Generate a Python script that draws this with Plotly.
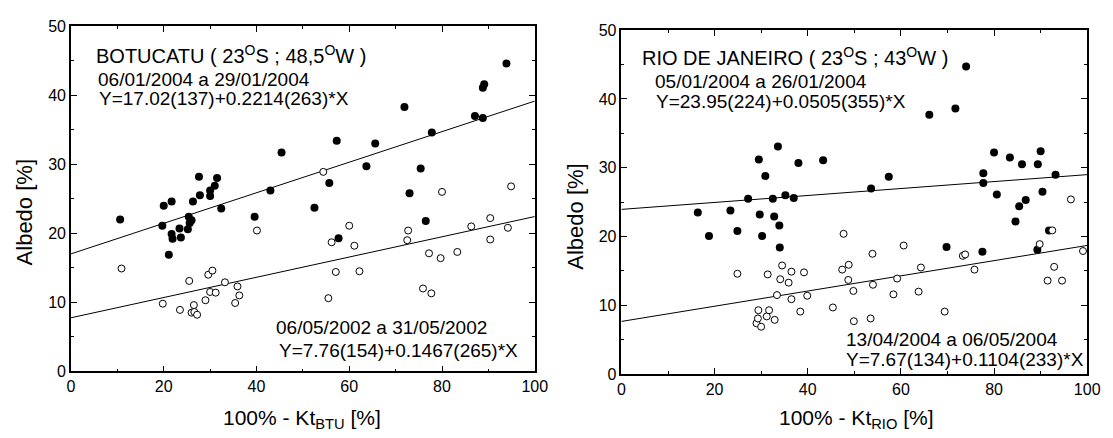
import plotly.graph_objects as go

# ---------------- data ----------------
# Botucatu, 06/01/2004 a 29/01/2004 (filled)
btu_jan_x = [10.6, 19.7, 20.0, 21.7, 21.7, 21.9, 21.1, 23.4, 23.7, 25.2, 25.4, 25.6, 26.0, 26.3,
             27.6, 27.8, 30.0, 30.0, 31.0, 31.5, 32.4, 39.6, 43.0, 45.4, 52.5, 55.7, 57.3, 57.7,
             63.7, 65.6, 71.9, 73.0, 75.4, 76.5, 77.8, 87.1, 88.8, 88.8, 89.1, 93.9]
btu_jan_y = [22.0, 21.1, 24.0, 24.6, 19.9, 19.2, 16.9, 20.7, 19.4, 20.6, 22.4, 21.5, 21.9, 24.6,
             28.2, 25.5, 26.2, 25.4, 26.9, 28.0, 23.6, 22.4, 26.2, 31.7, 23.7, 27.3, 33.4, 19.3,
             29.7, 33.0, 38.3, 25.8, 29.4, 21.8, 34.6, 37.0, 36.7, 41.1, 41.6, 44.6]
# Botucatu, 06/05/2002 a 31/05/2002 (open)
btu_may_x = [10.9, 19.8, 23.5, 25.5, 26.0, 26.5, 26.6, 27.2, 29.0, 29.6, 30.0, 30.5, 31.2, 33.2,
             35.4, 35.9, 36.3, 40.1, 54.4, 55.5, 56.2, 57.1, 60.0, 61.1, 62.2, 72.5, 72.7, 75.9,
             77.2, 77.7, 79.7, 80.0, 83.3, 86.3, 90.4, 90.4, 94.2, 94.9]
btu_may_y = [14.9, 9.8, 8.9, 13.1, 8.5, 9.6, 8.6, 8.2, 10.3, 14.0, 11.5, 14.6, 11.4, 12.9,
             9.9, 12.3, 11.0, 20.4, 28.9, 10.6, 18.7, 14.4, 21.1, 18.2, 14.5, 19.0, 20.4, 12.0,
             17.1, 11.3, 16.4, 26.0, 17.3, 21.0, 22.2, 19.1, 20.8, 26.8]
# Rio de Janeiro, 05/01/2004 a 26/01/2004 (filled)
rio_jan_x = [16.4, 18.8, 23.4, 24.9, 27.2, 29.5, 29.7, 30.2, 30.9, 32.5, 32.8, 33.6, 33.9, 34.0,
             35.2, 37.0, 38.0, 43.3, 53.6, 57.4, 66.1, 69.8, 71.7, 74.0, 77.5, 77.7, 77.7, 80.0,
             80.6, 83.4, 84.6, 85.4, 86.0, 86.8, 89.3, 89.4, 90.0, 90.4, 91.8, 93.2]
rio_jan_y = [23.5, 20.1, 23.8, 20.8, 25.5, 31.2, 23.2, 20.1, 28.8, 25.5, 22.9, 33.1, 21.6, 18.4,
             26.0, 25.6, 30.7, 31.1, 27.0, 28.7, 37.7, 18.5, 38.6, 44.7, 17.8, 29.2, 27.8, 32.2,
             26.1, 31.5, 22.2, 24.4, 30.5, 25.3, 18.1, 30.5, 32.4, 26.5, 20.9, 29.0]
# Rio de Janeiro, 13/04/2004 a 06/05/2004 (open)
rio_apr_x = [24.9, 29.0, 29.3, 29.4, 30.0, 31.2, 31.4, 31.7, 32.9, 33.4, 34.1, 34.5, 35.9, 36.5,
             36.5, 38.4, 39.2, 39.9, 45.4, 47.4, 47.7, 48.7, 48.8, 49.8, 49.9, 53.5, 53.9, 54.0,
             58.4, 59.2, 60.6, 63.8, 64.3, 69.4, 73.3, 73.8, 75.8, 89.8, 91.5, 92.5, 92.9, 94.6,
             96.5, 99.1]
rio_apr_y = [14.6, 7.4, 8.1, 9.3, 6.9, 8.4, 14.5, 9.3, 7.9, 11.5, 13.8, 15.8, 13.3, 10.9,
             14.9, 9.1, 14.8, 11.4, 9.7, 15.2, 20.4, 13.7, 15.9, 12.1, 7.7, 8.1, 17.5, 13.0,
             11.6, 13.9, 18.7, 12.0, 15.5, 9.1, 17.2, 17.4, 15.2, 18.9, 13.6, 20.9, 15.6, 13.6,
             25.4, 17.9]

# regression coefficients (from the chart's equations)
fits = {
    "btu_jan": (17.02, 0.2214),
    "btu_may": (7.76, 0.1467),
    "rio_jan": (23.95, 0.0505),
    "rio_apr": (7.67, 0.1104),
}
fit_x = [0, 100]

x_ticks = [0, 20, 40, 60, 80, 100]
y_ticks = [0, 10, 20, 30, 40, 50]

FONT = "Liberation Sans, Arial, sans-serif"

fig = go.Figure()

def add_panel(xa, ya, fx, fy, ox, oy, kf, ko):
    for key in (kf, ko):
        a, b = fits[key]
        fig.add_trace(go.Scatter(x=fit_x, y=[a + b * v for v in fit_x], mode="lines",
                                 line=dict(color="black", width=1), xaxis=xa, yaxis=ya,
                                 showlegend=False, hoverinfo="skip"))
    fig.add_trace(go.Scatter(x=fx, y=fy, mode="markers", xaxis=xa, yaxis=ya,
                             marker=dict(size=8, color="black", line=dict(width=0)),
                             showlegend=False))
    fig.add_trace(go.Scatter(x=ox, y=oy, mode="markers", xaxis=xa, yaxis=ya,
                             marker=dict(size=7, color="white", line=dict(color="black", width=1)),
                             showlegend=False))

add_panel("x", "y", btu_jan_x, btu_jan_y, btu_may_x, btu_may_y, "btu_jan", "btu_may")
add_panel("x2", "y2", rio_jan_x, rio_jan_y, rio_apr_x, rio_apr_y, "rio_jan", "rio_apr")

def xaxis_cfg(domain, anchor):
    return dict(domain=domain, anchor=anchor, range=[0, 100], tickvals=x_ticks,
                showgrid=False, zeroline=False, showline=True, linecolor="black", linewidth=1.5,
                mirror="ticks", ticks="inside", ticklen=6, tickwidth=1, tickcolor="black",
                minor=dict(dtick=10, ticks="inside", ticklen=3, tickcolor="black", tickwidth=1, showgrid=False),
                tickfont=dict(family=FONT, size=16, color="black"))

def yaxis_cfg(domain, anchor):
    return dict(domain=domain, anchor=anchor, range=[0, 50], tickvals=y_ticks,
                showgrid=False, zeroline=False, showline=True, linecolor="black", linewidth=1.5,
                mirror="ticks", ticks="inside", ticklen=6, tickwidth=1, tickcolor="black",
                minor=dict(dtick=5, ticks="inside", ticklen=3, tickcolor="black", tickwidth=1, showgrid=False),
                tickfont=dict(family=FONT, size=16, color="black"))

W, H = 1113, 438
fig.update_layout(
    width=W, height=H, margin=dict(l=0, r=0, t=0, b=0),
    paper_bgcolor="white", plot_bgcolor="white",
    xaxis=xaxis_cfg([68 / W, 539 / W], "y"),
    yaxis=yaxis_cfg([1 - 378 / H, 1 - 19 / H], "x"),
    xaxis2=xaxis_cfg([627 / W, 1100 / W], "y2"),
    yaxis2=yaxis_cfg([1 - 381 / H, 1 - 23 / H], "x2"),
    font=dict(family=FONT, color="black"),
)

ann = []
def txt(xref, yref, x, y, text, size=19):
    ann.append(dict(xref=xref, yref=yref, x=x, y=y, text=text, showarrow=False,
                    xanchor="left", yanchor="middle", font=dict(family=FONT, size=size, color="black")))

sup = lambda s: "<sup>" + s + "</sup>"
txt("x", "y", 5.0, 45.9, "BOTUCATU ( 23" + sup("O") + "S ; 48,5" + sup("O") + "W )", 20)
txt("x", "y", 5.4, 42.3, "06/01/2004 a 29/01/2004")
txt("x", "y", 5.6, 39.5, "Y=17.02(137)+0.2214(263)*X")
txt("x", "y", 43.8, 6.3, "06/05/2002 a 31/05/2002")
txt("x", "y", 44.4, 3.0, "Y=7.76(154)+0.1467(265)*X")

txt("x2", "y2", 4.0, 46.1, "RIO DE JANEIRO ( 23" + sup("O") + "S ; 43" + sup("O") + "W )", 20)
txt("x2", "y2", 6.8, 42.6, "05/01/2004 a 26/01/2004")
txt("x2", "y2", 7.1, 39.6, "Y=23.95(224)+0.0505(355)*X")
txt("x2", "y2", 47.8, 5.1, "13/04/2004 a 06/05/2004")
txt("x2", "y2", 47.8, 2.1, "Y=7.67(134)+0.1104(233)*X")

# axis titles
for xc, lab in ((303, "100% - Kt<sub>BTU</sub> [%]"), (866, "100% - Kt<sub>RIO</sub> [%]")):
    ann.append(dict(xref="paper", yref="paper", x=xc / W, y=1 - 428 / H, text=lab, showarrow=False,
                    xanchor="center", yanchor="middle", font=dict(family=FONT, size=21, color="black")))
for xc, yc in ((21, 213), (580, 217)):
    ann.append(dict(xref="paper", yref="paper", x=xc / W, y=1 - yc / H, text="Albedo [%]", showarrow=False,
                    textangle=-90, xanchor="center", yanchor="middle",
                    font=dict(family=FONT, size=22, color="black")))

fig.update_layout(annotations=ann)
fig.write_html("out.html", config={"displayModeBar": False},
               post_script="document.body.style.margin='0';document.body.style.overflow='hidden';")
